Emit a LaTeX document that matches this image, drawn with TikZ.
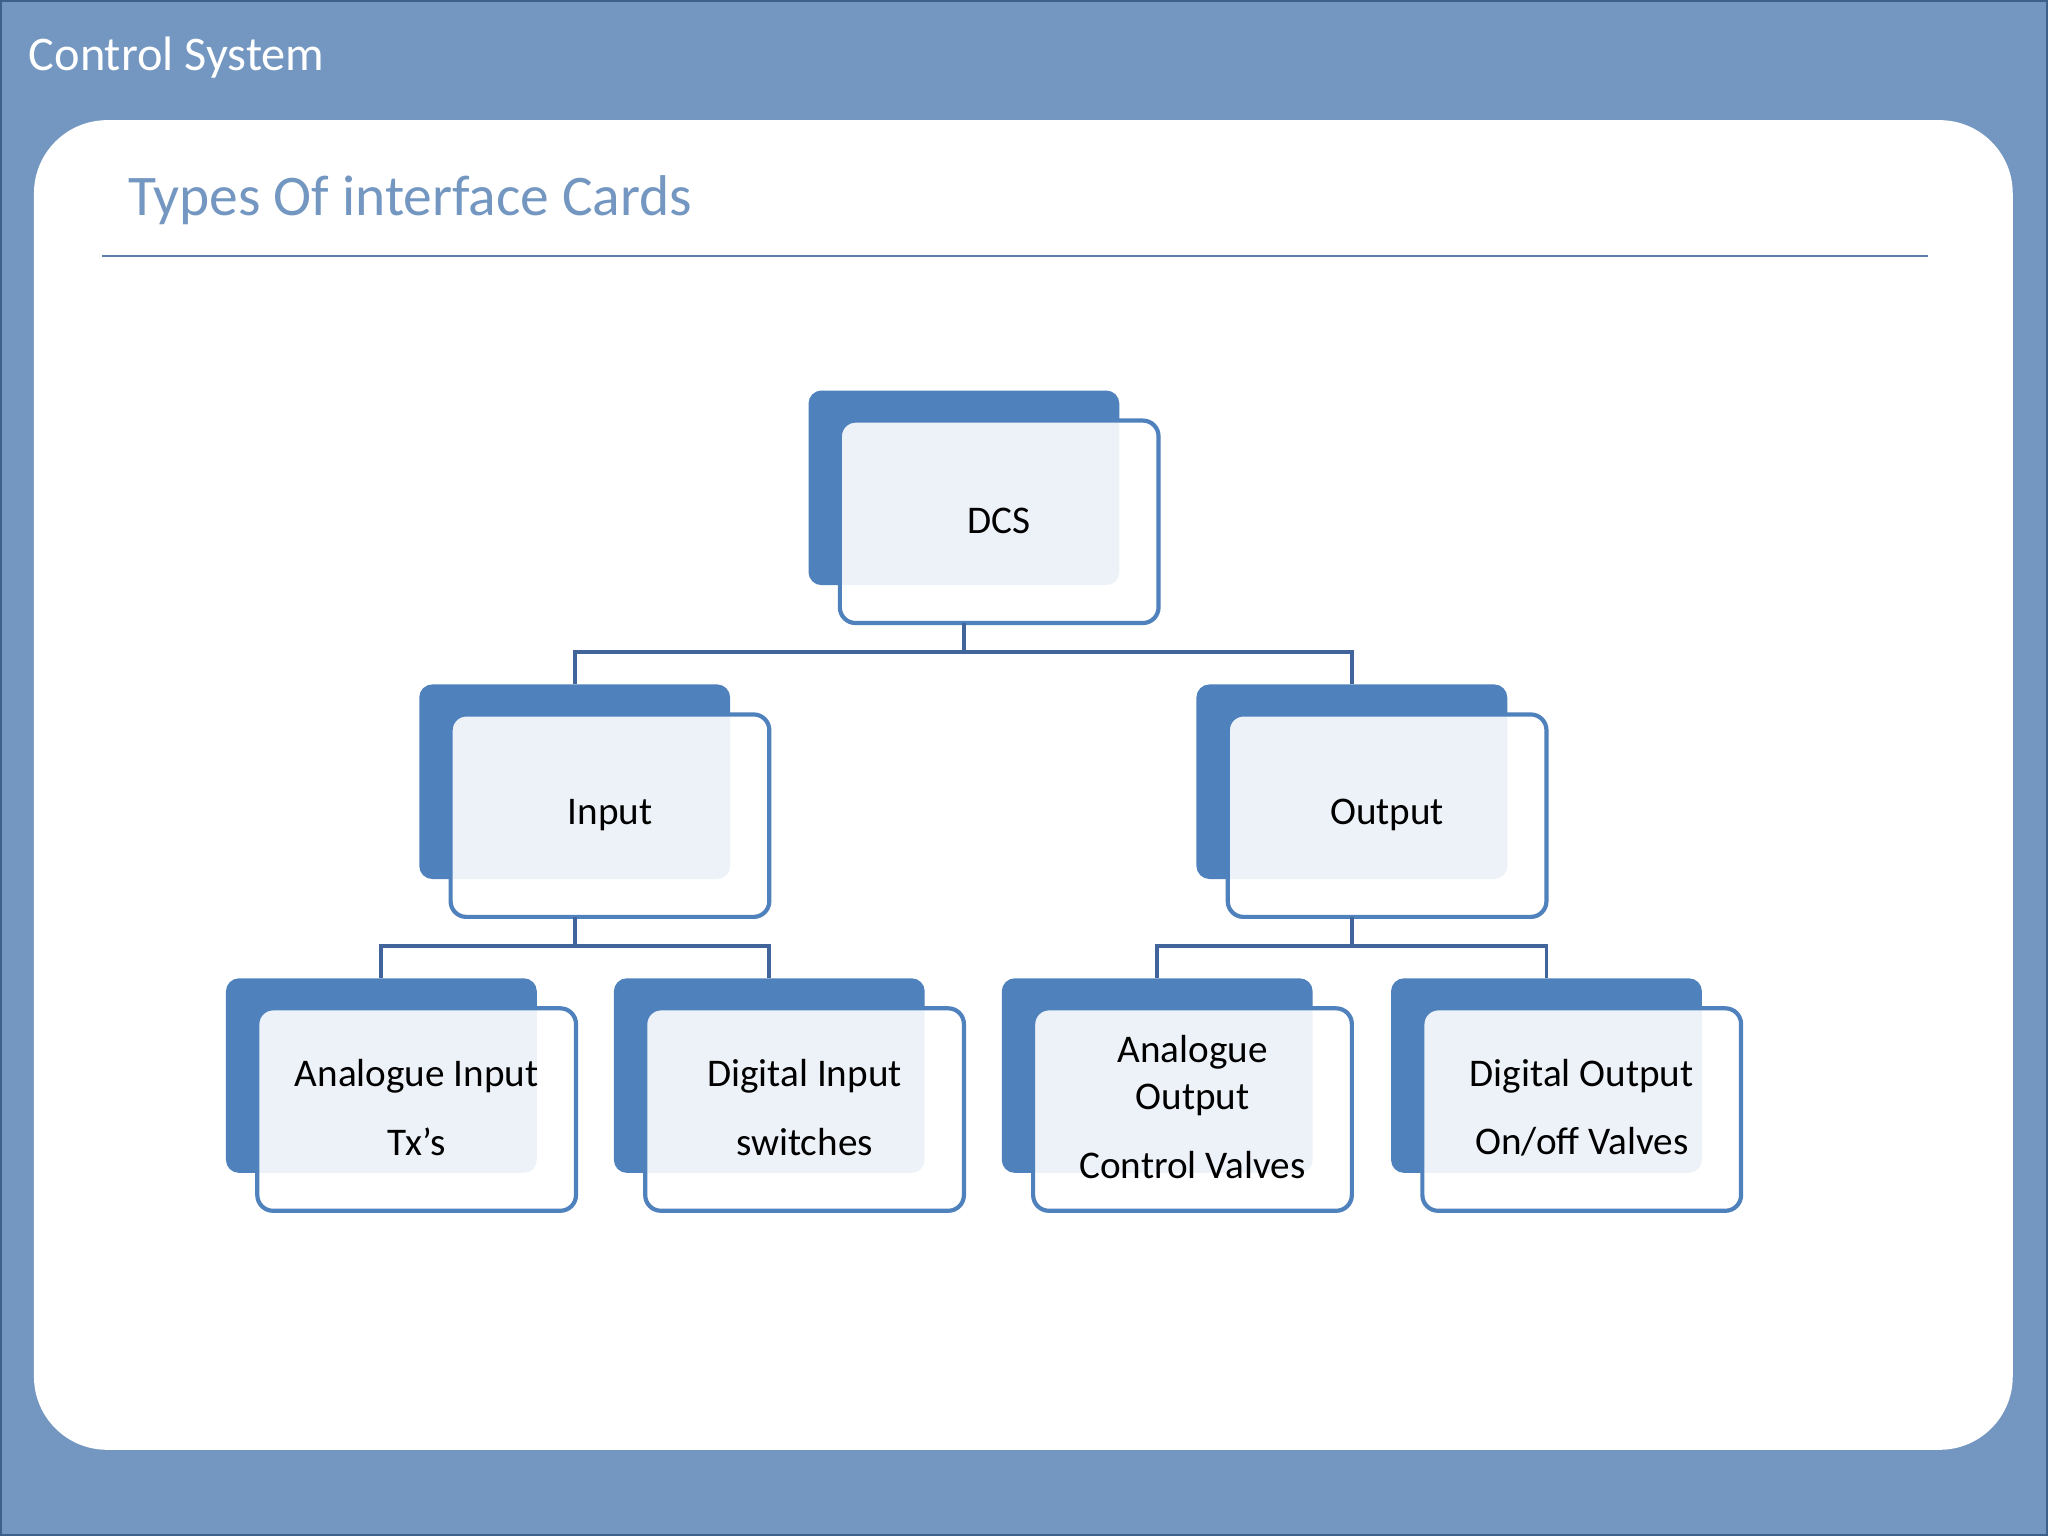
\documentclass[tikz,border=0pt]{standalone}
\usepackage{fontspec}
\setmainfont{Carlito}
\definecolor{bg}{HTML}{7397C1}
\definecolor{edge}{HTML}{3D5F8A}
\definecolor{acc}{HTML}{4F81BD}
\definecolor{conn}{HTML}{41659A}
\definecolor{rule}{HTML}{5B7FA8}
\begin{document}
\begin{tikzpicture}[x=0.5pt,y=-0.5pt,
  back/.style={fill=acc,rounded corners=5pt},
  front/.style={draw=acc,line width=1.6pt,fill=white,fill opacity=0.9,rounded corners=6pt},
  lbl/.style={font=\fontsize{15}{18}\selectfont,align=center},
  con/.style={draw=conn,line width=1.5pt}]
\useasboundingbox (0,0) rectangle (1568,1176);
\fill[bg] (0,0) rectangle (1568,1176);
\draw[edge,line width=1pt] (0.5,0.5) rectangle (1567.5,1175.5);
\node[anchor=west,text=white,font=\fontsize{18.5}{22}\selectfont] (title) at (15,44) {Control System};
\fill[white,rounded corners=28pt] (26,92) rectangle (1541,1110);
\node[anchor=west,text=bg,font=\fontsize{22}{26}\selectfont] (sub) at (91,153) {Types Of interface Cards};
\draw[rule,line width=0.8pt] (78,196) -- (1476,196);
% boxes: name, back x, back y
\foreach \n/\x/\y in {dcs/619/299,inp/321/524,out/916/524,ai/173/749,di/470/749,ao/767/749,do/1065/749}{
  \fill[back] (\x,\y) rectangle ++(238,149);
  \path[front] (\x+24,\y+23) rectangle ++(244,155);
  \coordinate (\n) at (\x+146,\y+100);
  \coordinate (\n-s) at (\x+119,\y+178);
  \coordinate (\n-n) at (\x+119,\y);
}
\node[lbl] (tdcs) at (765,399) {DCS};
\node[lbl] (tinp) at (467,624) {Input};
\node[lbl] (tout) at (1062,624) {Output};
\node[lbl] (tai1) at (319,824) {Analogue Input};
\node[lbl] (tai2) at (319,874) {Tx’s};
\node[lbl] (tdi1) at (616,824) {Digital Input};
\node[lbl] (tdi2) at (616,874) {switches};
\node[lbl] (tao1) at (913,806) {Analogue};
\node[lbl] (tao2) at (913,842) {Output};
\node[lbl] (tao3) at (913,892) {Control Valves};
\node[lbl] (tdo1) at (1211,824) {Digital Output};
\node[lbl] (tdo2) at (1211,874) {On/off Valves};
% connectors
\path[con] (dcs-s) -- ++(0,22) coordinate (j1);
\path[con] (inp-n) |- (j1) -| (out-n);
\path[con] (inp-s) -- ++(0,22) coordinate (j2);
\path[con] (ai-n) |- (j2) -| (di-n);
\path[con] (out-s) -- ++(0,22) coordinate (j3);
\path[con] (ao-n) |- (j3) -| (do-n);
\end{tikzpicture}
\end{document}
